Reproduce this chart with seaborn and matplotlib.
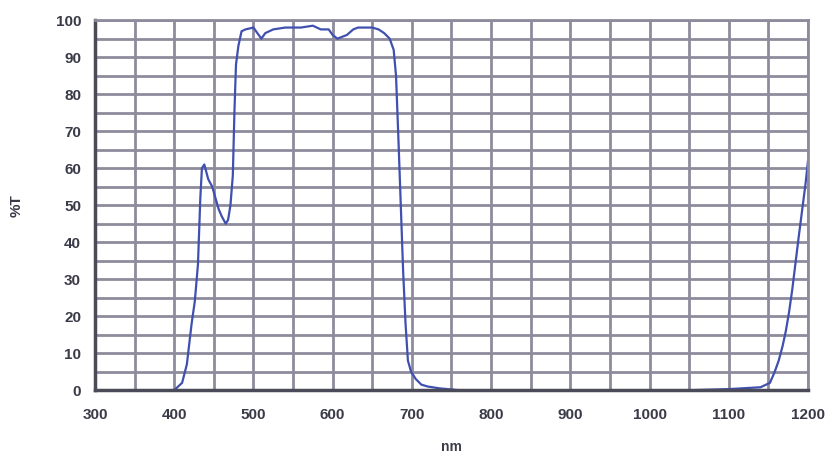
import matplotlib
matplotlib.use("Agg")
from matplotlib import pyplot as plt
from matplotlib.ticker import MultipleLocator
import seaborn as sns
import pandas as pd

# Datos (nm, %T)
wavelength = [400, 410, 416, 422, 426, 430, 433, 435, 438, 443, 448, 452, 456, 460, 465, 468,
              471, 474, 476, 478, 481, 485, 490, 500, 505, 510, 515, 525, 540, 560, 575, 585,
              595, 600, 606, 612, 618, 626, 632, 640, 650, 658, 665, 672, 677, 680, 683, 686,
              689, 692, 695, 699, 705, 712, 720, 735, 760, 850, 950, 1050, 1100, 1140, 1152,
              1158, 1163, 1168, 1172, 1176, 1180, 1184, 1188, 1191, 1194, 1197, 1200]
transmission = [0, 2, 7, 18, 24, 34, 52, 60, 61, 57, 55, 52, 49, 47, 45, 46,
                50, 58, 75, 88, 93, 97, 97.5, 98, 96.5, 95, 96.5, 97.5, 98, 98, 98.5, 97.5,
                97.5, 96, 95, 95.5, 96, 97.5, 98, 98, 98, 97.5, 96.5, 95, 92, 85, 68, 50,
                32, 18, 8, 5, 3, 1.5, 1, 0.5, 0, 0, 0, 0, 0.3, 0.8, 2,
                5, 8, 12, 16, 21, 27, 34, 41, 46, 51, 56, 62]

x_ticks = [300, 400, 500, 600, 700, 800, 900, 1000, 1100, 1200]
y_ticks = [0, 10, 20, 30, 40, 50, 60, 70, 80, 90, 100]

df = pd.DataFrame({'nm': wavelength, 'T': transmission})

sns.set_style('white')
plt.rcParams['font.family'] = ['Liberation Sans', 'DejaVu Sans']

fig = plt.figure(figsize=(8.33, 4.58), dpi=100)
ax = fig.add_axes([0.114, 0.148, 0.856, 0.808])

grid_color = '#8e8c9c'
ax.xaxis.set_minor_locator(MultipleLocator(50))
ax.yaxis.set_minor_locator(MultipleLocator(5))
ax.grid(True, which='both', color=grid_color, linewidth=2.0)
ax.set_axisbelow(True)

sns.lineplot(data=df, x='nm', y='T', ax=ax, color='#4050b0', linewidth=1.6)

ax.set_xlim(300, 1200)
ax.set_ylim(0, 100)
ax.set_xticks(x_ticks)
ax.set_yticks(y_ticks)
ax.tick_params(axis='both', which='both', length=0, labelsize=11)
ax.tick_params(axis='x', pad=13)
ax.tick_params(axis='y', pad=10)
for lbl in ax.get_xticklabels() + ax.get_yticklabels():
    lbl.set_fontweight('bold')
    lbl.set_color('#3a3a48')

for side in ['left', 'bottom']:
    ax.spines[side].set_color('#4a4a58')
    ax.spines[side].set_linewidth(2.5)
for side in ['top', 'right']:
    ax.spines[side].set_color(grid_color)
    ax.spines[side].set_linewidth(2.0)

ax.set_ylabel('%T', fontsize=11, fontweight='bold', color='#3a3a48')
ax.yaxis.set_label_coords(-0.1, 0.5)
ax.set_xlabel('nm', fontsize=10, fontweight='bold', color='#3a3a48')
ax.xaxis.set_label_coords(0.5, -0.135)

fig.savefig('out.png', dpi=100)
